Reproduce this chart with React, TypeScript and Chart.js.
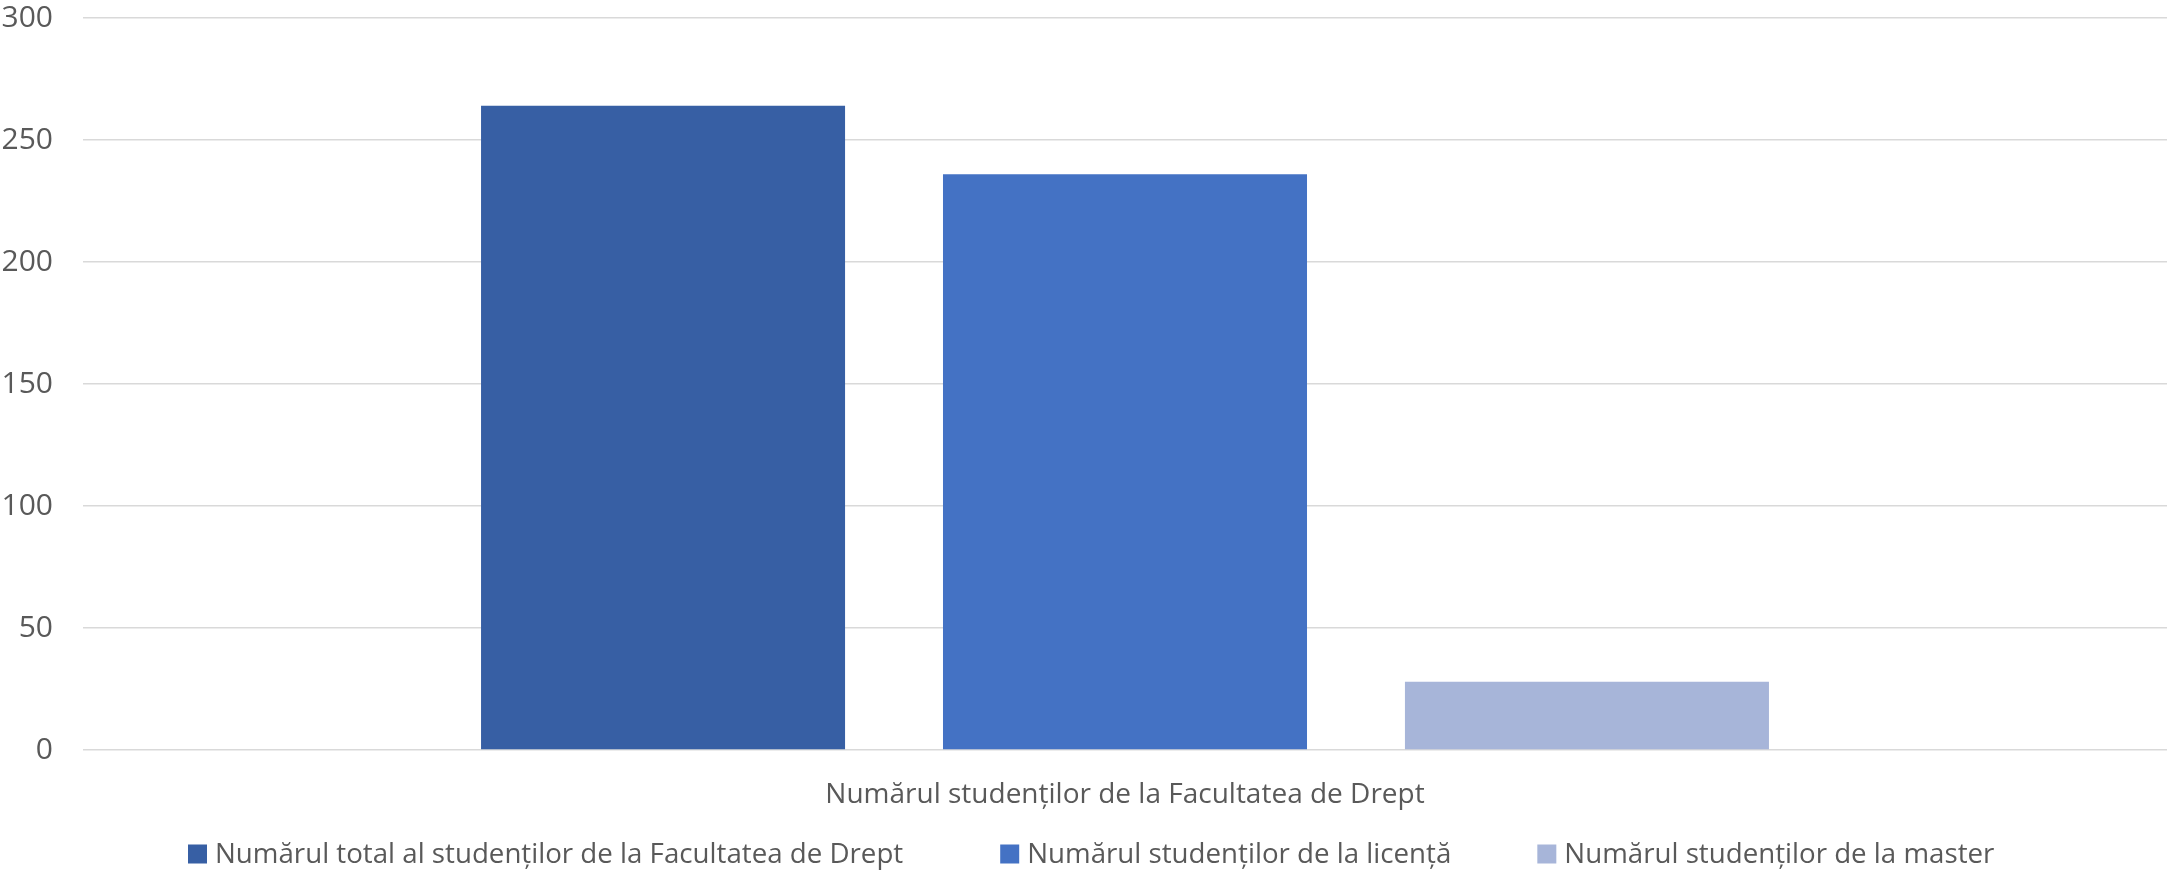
import React, { useEffect, useRef } from 'react';
import { Chart, registerables } from 'chart.js';

Chart.register(...registerables);

const categories = ['Numărul studenților de la Facultatea de Drept'];
const seriesLabels = [
  'Numărul total al studenților de la Facultatea de Drept',
  'Numărul studenților de la licență',
  'Numărul studenților de la master',
];
const totalValues = [264];
const licentaValues = [236];
const masterValues = [28];
const yTicks = [0, 50, 100, 150, 200, 250, 300];
const seriesColors = ['#375FA4', '#4472C4', '#A7B5D9'];

const FONT = '"Open Sans", sans-serif';
const TEXT_COLOR = '#595959';
const TICK_SIZE = 30;
const LABEL_SIZE = 28;
const LEGEND_SIZE = 27.7;
const LEGEND_GAPS = [97, 86];

const legendPlugin = {
  id: 'customLegend',
  afterDraw(chart: any) {
    const ctx = chart.ctx as CanvasRenderingContext2D;
    const ds = chart.data.datasets;
    ctx.save();
    ctx.font = `${LEGEND_SIZE}px ${FONT}`;
    const box = 19;
    const gap = 8;
    let x = 188;
    const cy = 854;
    ds.forEach((d: any, i: number) => {
      ctx.fillStyle = d.backgroundColor;
      ctx.fillRect(x, cy - box / 2, box, box);
      ctx.fillStyle = TEXT_COLOR;
      ctx.textBaseline = 'middle';
      ctx.textAlign = 'left';
      ctx.fillText(d.label, x + box + gap, cy + 1);
      const w = box + gap + ctx.measureText(d.label).width;
      x += w + (LEGEND_GAPS[i] || 0);
    });
    ctx.restore();
  },
};

export default function App() {
  const canvasRef = useRef<HTMLCanvasElement | null>(null);

  useEffect(() => {
    document.body.style.margin = '0';
    const canvas = canvasRef.current;
    if (!canvas) return;
    const chart = new Chart(canvas, {
      type: 'bar',
      data: {
        labels: categories,
        datasets: [
          { label: seriesLabels[0], data: totalValues, backgroundColor: seriesColors[0] },
          { label: seriesLabels[1], data: licentaValues, backgroundColor: seriesColors[1] },
          { label: seriesLabels[2], data: masterValues, backgroundColor: seriesColors[2] },
        ],
      },
      options: {
        responsive: false,
        animation: false,
        devicePixelRatio: 1,
        datasets: {
          bar: { categoryPercentage: 0.665, barPercentage: 0.788 },
        },
        layout: { padding: { top: 17, right: 3, left: 0, bottom: 61 } },
        plugins: {
          legend: { display: false },
          tooltip: { enabled: false },
        },
        scales: {
          x: {
            grid: { display: false },
            border: { display: false },
            ticks: {
              color: TEXT_COLOR,
              font: { family: FONT, size: LABEL_SIZE },
              padding: 20,
            },
            afterFit: (scale: any) => {
              scale.height = 60;
            },
          },
          y: {
            min: 0,
            max: 300,
            border: { display: false },
            grid: {
              color: '#D9D9D9',
              lineWidth: 1.5,
              drawTicks: true,
              tickLength: 30,
              tickColor: 'rgba(0,0,0,0)',
            },
            ticks: {
              color: TEXT_COLOR,
              font: { family: FONT, size: TICK_SIZE },
              padding: 0,
            },
            afterBuildTicks: (scale: any) => {
              scale.ticks = yTicks.map((v) => ({ value: v }));
            },
            afterFit: (scale: any) => {
              scale.width = 83;
            },
          },
        },
      },
      plugins: [legendPlugin],
    });
    return () => chart.destroy();
  }, []);

  return <canvas ref={canvasRef} width={2170} height={871} style={{ display: 'block' }} />;
}
